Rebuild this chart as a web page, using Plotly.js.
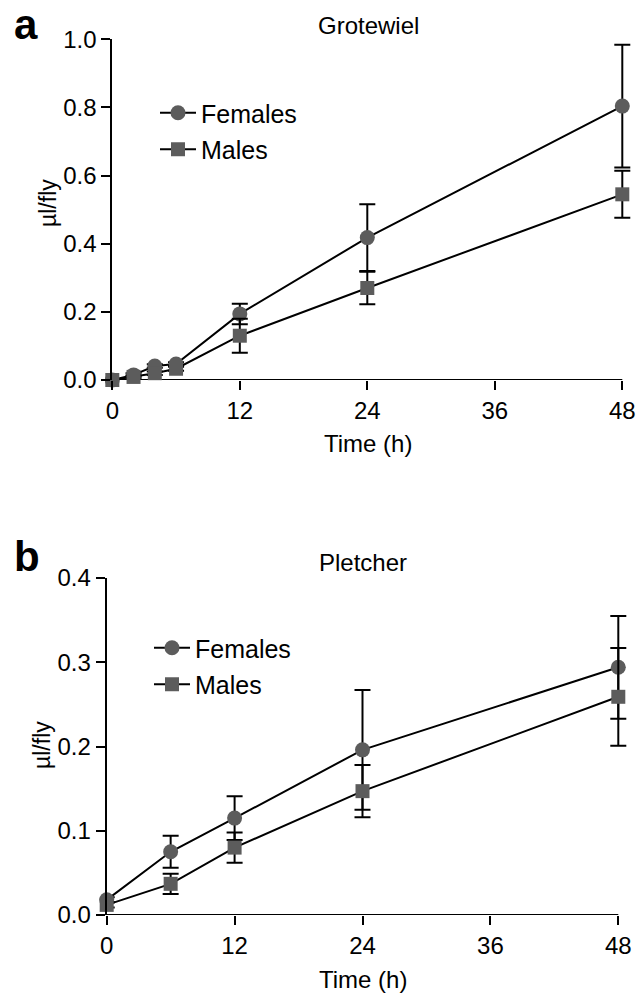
<!DOCTYPE html>
<html>
<head>
<meta charset="utf-8">
<script src="https://cdn.plot.ly/plotly-3.0.1.min.js"></script>
<style>html,body{margin:0;padding:0;background:#fff}#chart{width:636px;height:994px}</style>
</head>
<body>
<div id="chart"></div>
<script>
// Panel a: Grotewiel
const aTime = [0, 2, 4, 6, 12, 24, 48];
const aFemales = [0, 0.015, 0.041, 0.047, 0.194, 0.418, 0.804];
const aFemalesErr = [0, 0.005, 0.005, 0.005, 0.030, 0.098, 0.180];
const aMales = [0, 0.009, 0.020, 0.033, 0.130, 0.270, 0.545];
const aMalesErr = [0, 0.004, 0.005, 0.006, 0.050, 0.048, 0.069];

// Panel b: Pletcher
const bTime = [0, 6, 12, 24, 48];
const bFemales = [0.018, 0.075, 0.115, 0.196, 0.294];
const bFemalesErr = [0.003, 0.019, 0.026, 0.071, 0.061];
const bMales = [0.012, 0.037, 0.080, 0.147, 0.259];
const bMalesErr = [0.003, 0.012, 0.018, 0.031, 0.058];

const xTicks = [0, 12, 24, 36, 48];
const seriesNames = ['Females', 'Males'];

const W = 636, H = 994;
const px = v => v / W;
const py = v => 1 - v / H;

const FONT = 'Liberation Sans, Arial, Helvetica, sans-serif';
const GRAY = '#5c5c5c';
const XMAX = 48, XPAD = 49;   // axis drawn to 48, range padded so end error bars are not clipped

function trace(x, y, err, name, symbol, xa, ya, leg, grp) {
  return {
    type: 'scatter', mode: 'lines+markers', x: x, y: y, name: name,
    xaxis: xa, yaxis: ya, legend: leg, legendgroup: grp,
    line: {color: '#000', width: 2},
    marker: {color: GRAY, size: symbol === 'square' ? 14 : 15, symbol: symbol, line: {width: 0}},
    error_y: {type: 'data', array: err, visible: true, color: '#000', thickness: 2, width: 8},
    cliponaxis: false
  };
}

const data = [
  trace(aTime, aFemales, aFemalesErr, seriesNames[0], 'circle', 'x', 'y', 'legend', 'a1'),
  trace(aTime, aMales, aMalesErr, seriesNames[1], 'square', 'x', 'y', 'legend', 'a2'),
  trace(bTime, bFemales, bFemalesErr, seriesNames[0], 'circle', 'x2', 'y2', 'legend2', 'b1'),
  trace(bTime, bMales, bMalesErr, seriesNames[1], 'square', 'x2', 'y2', 'legend2', 'b2')
];

const axisCommon = {
  linecolor: '#000', linewidth: 2, ticks: 'outside', ticklen: 9,
  tickwidth: 2, tickcolor: '#000', showgrid: false, zeroline: false,
  tickfont: {family: FONT, size: 24, color: '#000'}, fixedrange: true
};

const legendCommon = {
  font: {family: FONT, size: 25, color: '#000'}, bgcolor: 'rgba(0,0,0,0)',
  xanchor: 'left', yanchor: 'top', traceorder: 'grouped', tracegroupgap: 1,
  itemwidth: 36
};

const ann = (text, x, y, size, opts) => Object.assign({
  text: text, xref: 'paper', yref: 'paper', x: px(x), y: py(y),
  xanchor: 'center', yanchor: 'middle', showarrow: false,
  font: {family: FONT, size: size, color: '#000'}
}, opts || {});

// x domains: 0 at left pixel, 48 at right pixel; extend to XPAD proportionally
const dom = (l, r) => [px(l), px(l + (r - l) * XPAD / XMAX)];

const layout = {
  width: W, height: H, margin: {l: 0, r: 0, t: 0, b: 0},
  paper_bgcolor: '#fff', plot_bgcolor: '#fff', showlegend: true,
  xaxis: Object.assign({}, axisCommon, {domain: dom(112.3, 622.3), range: [0, XPAD], tickvals: xTicks, anchor: 'y', showline: false}),
  yaxis: Object.assign({}, axisCommon, {domain: [py(380), py(39.3)], range: [0, 1], dtick: 0.2, tickformat: '.1f', anchor: 'x', showline: true}),
  xaxis2: Object.assign({}, axisCommon, {domain: dom(106.7, 618.3), range: [0, XPAD], tickvals: xTicks, anchor: 'y2', showline: false}),
  yaxis2: Object.assign({}, axisCommon, {domain: [py(915), py(578)], range: [0, 0.4], dtick: 0.1, tickformat: '.1f', anchor: 'x2', showline: true}),
  shapes: [
    {type: 'line', xref: 'x', yref: 'y', x0: 0, x1: XMAX, y0: 0, y1: 0, line: {color: '#000', width: 2}, layer: 'below'},
    {type: 'line', xref: 'x2', yref: 'y2', x0: 0, x1: XMAX, y0: 0, y1: 0, line: {color: '#000', width: 2}, layer: 'below'}
  ],
  legend: Object.assign({}, legendCommon, {x: px(155), y: py(90)}),
  legend2: Object.assign({}, legendCommon, {x: px(149), y: py(625)}),
  annotations: [
    ann('<b>a</b>', 26, 24, 42),
    ann('<b>b</b>', 27, 556, 42),
    ann('Grotewiel', 368, 25, 24),
    ann('Pletcher', 363, 562, 24),
    ann('Time (h)', 368, 443, 24),
    ann('Time (h)', 363, 979, 24),
    ann('µl/fly', 48, 203, 23, {textangle: -90}),
    ann('µl/fly', 42, 745, 23, {textangle: -90})
  ]
};

Plotly.newPlot('chart', data, layout, {displayModeBar: false, staticPlot: true});
</script>
</body>
</html>
